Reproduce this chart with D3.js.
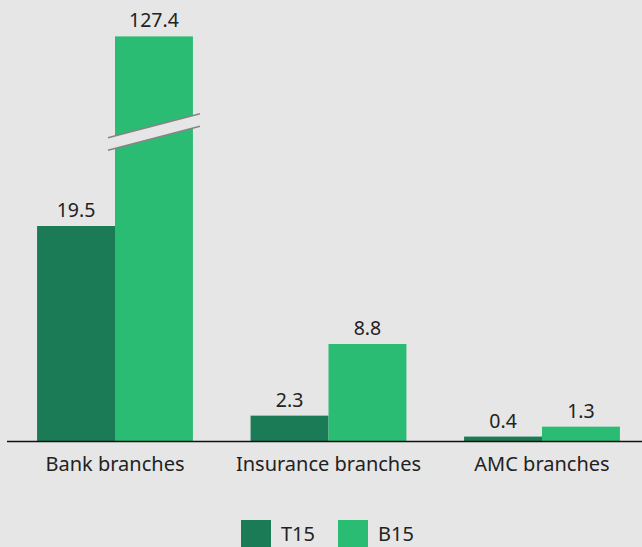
<!DOCTYPE html>
<meta charset="utf-8">
<style>
body { margin: 0; background: #e6e6e6; }
text { font-family: "Noto Sans", sans-serif; fill: #222; }
</style>
<body>
<script src="https://cdn.jsdelivr.net/npm/d3@7"></script>
<script>
// data
var categories = ["Bank branches", "Insurance branches", "AMC branches"];
var seriesNames = ["T15", "B15"];
var t15 = [19.5, 2.3, 0.4];
var b15 = [127.4, 8.8, 1.3];
var colors = ["#1a7b56", "#2bbc73"];

// the tall bar is cut: drawn to this height and marked with a break
var breakCap = 36.7, breakAt = 28.6;

var width = 642, height = 547, baseY = 441;

var svg = d3.select("body").append("svg")
    .attr("width", width)
    .attr("height", height);

var x0 = d3.scaleBand()
    .domain(categories)
    .range([8.25, 648.75])
    .paddingInner(0.27)
    .paddingOuter(0.135);
var x1 = d3.scaleBand()
    .domain(seriesNames)
    .range([0, x0.bandwidth()]);
var y = d3.scaleLinear()
    .domain([0, 40])
    .range([baseY, 0]);

var rows = categories.map(function(c, i) {
  return { cat: c, vals: [ { s: "T15", v: t15[i] }, { s: "B15", v: b15[i] } ] };
});

var groups = svg.selectAll(".grp")
    .data(rows)
  .enter().append("g")
    .attr("transform", function(d) { return "translate(" + x0(d.cat) + ",0)"; });

groups.selectAll("rect")
    .data(function(d) { return d.vals; })
  .enter().append("rect")
    .attr("x", function(d) { return x1(d.s); })
    .attr("width", x1.bandwidth())
    .attr("y", function(d) { return y(Math.min(d.v, breakCap)); })
    .attr("height", function(d) { return baseY - y(Math.min(d.v, breakCap)); })
    .attr("fill", function(d, i) { return colors[i]; });

groups.selectAll(".val")
    .data(function(d) { return d.vals; })
  .enter().append("text")
    .attr("x", function(d) { return x1(d.s) + x1.bandwidth() / 2; })
    .attr("y", function(d) { return y(Math.min(d.v, breakCap)) - 9; })
    .attr("text-anchor", "middle")
    .style("font-size", "19.5px")
    .text(function(d) { return d.v.toFixed(1); });

// break marks on the cut bar
var bx = x0(categories[0]) + x1("B15"), bw = x1.bandwidth();
var ym = y(breakAt), slope = 24, gap = 12.5;
var xl = bx - 7, xr = bx + bw + 7;
svg.append("polygon")
    .attr("points", [[xl, ym + slope / 2], [xr, ym - slope / 2], [xr, ym - slope / 2 + gap], [xl, ym + slope / 2 + gap]].join(" "))
    .attr("fill", "#e6e6e6");
[0, gap].forEach(function(o) {
  svg.append("line")
      .attr("x1", xl).attr("y1", ym + slope / 2 + o)
      .attr("x2", xr).attr("y2", ym - slope / 2 + o)
      .attr("stroke", "#858585")
      .attr("stroke-width", 1.6);
});

// baseline + category labels
svg.append("line")
    .attr("x1", 7).attr("x2", width)
    .attr("y1", baseY + 0.5).attr("y2", baseY + 0.5)
    .attr("stroke", "#111")
    .attr("stroke-width", 1.5);

svg.selectAll(".cat")
    .data(categories)
  .enter().append("text")
    .attr("x", function(d) { return x0(d) + x0.bandwidth() / 2; })
    .attr("y", 471)
    .attr("text-anchor", "middle")
    .style("font-size", "20px")
    .text(function(d) { return d; });

// legend
var legX = [241, 338];
var leg = svg.selectAll(".leg")
    .data(seriesNames)
  .enter().append("g")
    .attr("transform", function(d, i) { return "translate(" + legX[i] + ",520)"; });
leg.append("rect")
    .attr("width", 30).attr("height", 27)
    .attr("fill", function(d, i) { return colors[i]; });
leg.append("text")
    .attr("x", 40).attr("y", 21)
    .style("font-size", "20px")
    .text(function(d) { return d; });
</script>
</body>
